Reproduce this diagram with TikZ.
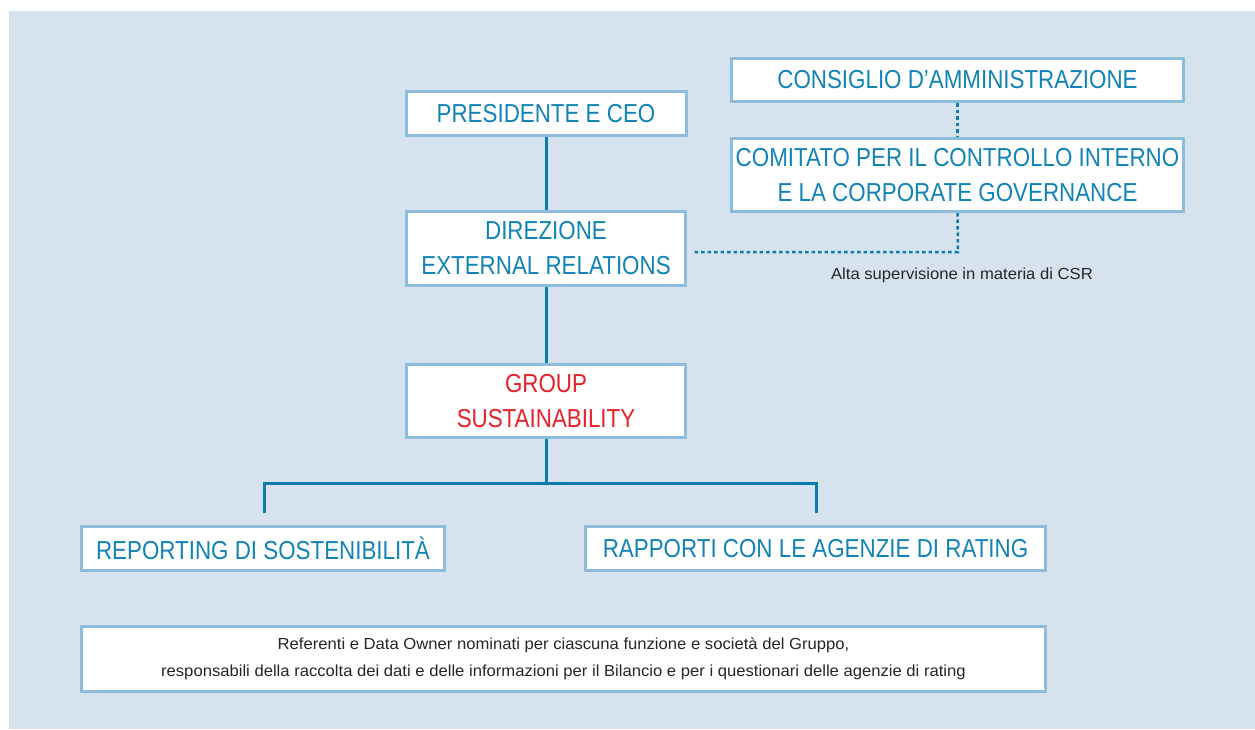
\documentclass[tikz,border=0pt]{standalone}
\usepackage{fontspec}
\setmainfont[FakeStretch=0.86]{Liberation Sans}
\newfontfamily\smallfont[FakeStretch=1.04]{Liberation Sans}
\definecolor{bgblue}{HTML}{D6E2EE}
\definecolor{boxline}{HTML}{8DBCDC}
\definecolor{txtblue}{HTML}{1283B8}
\definecolor{conblue}{HTML}{0B7CAD}
\definecolor{grpred}{HTML}{E8202A}
\tikzset{
  orgbox/.style={draw=boxline, line width=3pt, fill=white, text=txtblue, align=center,
    font=\fontsize{26}{35}\selectfont, inner sep=0pt},
  conn/.style={draw=conblue, line width=3pt},
  dotconn/.style={draw=conblue, line width=2.5pt, dash pattern=on 3.5pt off 3pt},
  smalltxt/.style={font=\smallfont\fontsize{16}{27}\selectfont, text=black!85, align=center, inner sep=0pt}
}
\begin{document}
\begin{tikzpicture}[x=1pt,y=-1pt]
\useasboundingbox (0,0) rectangle (1255,729);
\fill[white] (0,0) rectangle (1255,729);
\fill[bgblue] (9,11) rectangle (1255,729);
\node[orgbox, minimum width=280pt, minimum height=44pt] (pres) at (546,113.5) {PRESIDENTE E CEO};
\node[orgbox, minimum width=279pt, minimum height=74pt] (dir) at (546,248.5) {DIREZIONE\\EXTERNAL RELATIONS};
\node[orgbox, minimum width=279pt, minimum height=73pt, text=grpred] (grp) at (546,401) {GROUP\\SUSTAINABILITY};
\node[orgbox, minimum width=452pt, minimum height=43pt] (cons) at (957.5,80) {CONSIGLIO D’AMMINISTRAZIONE};
\node[orgbox, minimum width=452pt, minimum height=73pt] (com) at (957.5,175) {COMITATO PER IL CONTROLLO INTERNO\\E LA CORPORATE GOVERNANCE};
\node[orgbox, minimum width=363pt, minimum height=44pt] (rep) at (263,548.5) {REPORTING DI SOSTENIBILITÀ};
\node[orgbox, minimum width=460pt, minimum height=44pt] (rap) at (815.5,548.5) {RAPPORTI CON LE AGENZIE DI RATING};
\node[orgbox, minimum width=964pt, minimum height=65pt, text=black!85, font=\smallfont\fontsize{16}{27}\selectfont] (ref) at (563.5,659) {Referenti e Data Owner nominati per ciascuna funzione e società del Gruppo,\\responsabili della raccolta dei dati e delle informazioni per il Bilancio e per i questionari delle agenzie di rating};
\node[smalltxt] (alta) at (962,275) {Alta supervisione in materia di CSR};
\coordinate (hl) at (264,483);
\coordinate (hr) at (816,483);
\coordinate (jl) at (264,513);
\coordinate (jr) at (816,513);
\coordinate (dc) at (958,252);
\coordinate (de) at (692,252);
\draw[conn] (pres.south) -- (dir.north);
\draw[conn] (dir.south) -- (grp.north);
\draw[conn] (grp.south) -- (grp.south |- hl);
\draw[conn] (jl) -- (hl) -- (hr) -- (jr);
\draw[dotconn] (cons.south) -- (com.north);
\draw[dotconn] (com.south) -- (dc) -- (de);
\end{tikzpicture}
\end{document}
